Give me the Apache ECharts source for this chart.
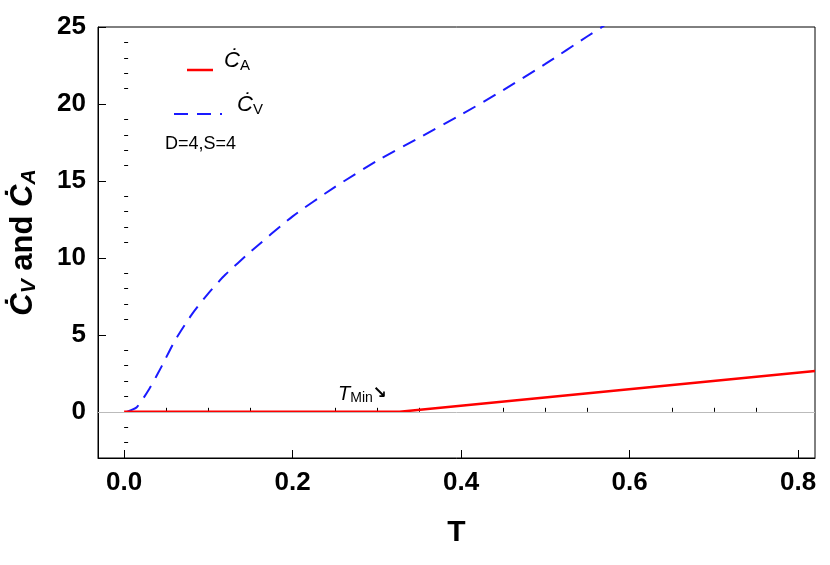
<!DOCTYPE html>
<html>
<head>
<meta charset="utf-8">
<script src="https://cdn.jsdelivr.net/npm/echarts@6/dist/echarts.min.js"></script>
<style>body{margin:0}#main{width:830px;height:565px}</style>
</head>
<body>
<div id="main"></div>
<script>
// data
var tCv = [0.003, 0.015, 0.03, 0.045, 0.06, 0.08, 0.1, 0.12, 0.15, 0.2, 0.25, 0.3, 0.35, 0.4, 0.45, 0.5, 0.55, 0.57];
var cv  = [0.0, 0.3, 1.5, 3.0, 4.6, 6.3, 7.7, 8.9, 10.4, 12.7, 14.6, 16.3, 17.8, 19.3, 20.9, 22.6, 24.4, 25.1];
var tCa = [0.0, 0.327, 0.82];
var ca  = [0.0, 0.0, 2.65];
var xTicks = [0, 0.2, 0.4, 0.6, 0.8];
var yTicks = [0, 5, 10, 15, 20, 25];
var xMinor = [0.05,0.1,0.15,0.25,0.3,0.35,0.45,0.5,0.55,0.65,0.7,0.75];
var yMinor = [-2,-1,1,2,3,4,6,7,8,9,11,12,13,14,16,17,18,19,21,22,23,24];

function zip(a, b) { return a.map(function (v, i) { return [v, b[i]]; }); }

var font = 'Liberation Sans, Arial, sans-serif';
var chart = echarts.init(document.getElementById('main'));
var ax = { color: '#000', width: 1 };
chart.setOption({
  animation: false,
  grid: { left: 97, right: 15, top: 27, bottom: 107, show: true, borderColor: '#000', borderWidth: 1, backgroundColor: 'transparent' },
  xAxis: [{
    type: 'value', min: -0.031, max: 0.82,
    splitLine: { show: false },
    axisLine: { onZero: false, lineStyle: ax },
    axisTick: { customValues: xTicks, length: 8, inside: true, lineStyle: ax },
    axisLabel: { customValues: xTicks, formatter: function (v) { return v.toFixed(1); }, color: '#000', fontSize: 26, fontWeight: 'bold', fontFamily: font, margin: 12 },
    name: 'T', nameLocation: 'middle', nameGap: 60,
    nameTextStyle: { color: '#000', fontSize: 30, fontWeight: 'bold', fontFamily: font }
  }, {
    type: 'value', min: -0.031, max: 0.82, position: 'bottom',
    splitLine: { show: false }, axisLine: { show: false }, axisLabel: { show: false },
    axisTick: { customValues: xMinor, length: 4, inside: true, lineStyle: ax }
  }],
  yAxis: [{
    type: 'value', min: -3, max: 25,
    splitLine: { show: false },
    axisLine: { onZero: false, lineStyle: ax },
    axisTick: { customValues: yTicks, length: 8, inside: true, lineStyle: ax },
    axisLabel: { customValues: yTicks, color: '#000', fontSize: 26, fontWeight: 'bold', fontFamily: font, margin: 12 },
    name: '{a|Ċ}{s|V}{t| and }{a|Ċ}{s|A}', nameLocation: 'middle', nameGap: 58, nameRotate: 90,
    nameTextStyle: {
      rich: {
        a: { fontSize: 31, fontWeight: 'bold', fontStyle: 'italic', fontFamily: font, color: '#000' },
        s: { fontSize: 21, fontWeight: 'bold', fontStyle: 'italic', fontFamily: font, color: '#000', padding: [12, 0, 0, 0] },
        t: { fontSize: 31, fontWeight: 'bold', fontFamily: font, color: '#000' }
      }
    }
  }, {
    type: 'value', min: -3, max: 25, position: 'left',
    splitLine: { show: false }, axisLine: { show: false }, axisLabel: { show: false },
    axisTick: { customValues: yMinor, length: 4, inside: true, lineStyle: ax }
  }],
  series: [{
    type: 'line', data: zip(tCa, ca), showSymbol: false, smooth: false,
    lineStyle: { color: '#ff0000', width: 2.5 },
    markLine: {
      silent: true, symbol: 'none', label: { show: false },
      lineStyle: { color: '#bbbbbb', width: 1, type: 'solid' },
      data: [{ yAxis: 0 }]
    },
    z: 3
  }, {
    type: 'line', data: zip(tCv, cv), showSymbol: false, smooth: 0.2,
    lineStyle: { color: '#1a1aff', width: 2, type: [14, 9] },
    z: 2
  }],
  graphic: [
    { type: 'line', shape: { x1: 187, y1: 70, x2: 213, y2: 70 }, style: { stroke: '#ff0000', lineWidth: 2.5 } },
    { type: 'text', left: 224, top: 50, style: { text: '{a|Ċ}{s|A}', rich: { a: { fontSize: 22, fontStyle: 'italic', fontFamily: font }, s: { fontSize: 15, fontFamily: font, padding: [10, 0, 0, 0] } } } },
    { type: 'line', shape: { x1: 174, y1: 114, x2: 222, y2: 114 }, style: { stroke: '#1a1aff', lineWidth: 2, lineDash: [14, 9] } },
    { type: 'text', left: 237, top: 94, style: { text: '{a|Ċ}{s|V}', rich: { a: { fontSize: 22, fontStyle: 'italic', fontFamily: font }, s: { fontSize: 15, fontFamily: font, padding: [10, 0, 0, 0] } } } },
    { type: 'text', left: 165, top: 135, style: { text: 'D=4,S=4', fontSize: 18, fontFamily: font, fill: '#000' } },
    { type: 'text', left: 338, top: 384, style: { text: '{a|T}{s|Min}{r|↘}', rich: { a: { fontSize: 20, fontStyle: 'italic', fontFamily: font }, s: { fontSize: 14, fontFamily: font, padding: [8, 0, 0, 0] }, r: { fontSize: 17, fontFamily: 'DejaVu Sans', fontWeight: 'bold' } } } }
  ]
});
</script>
</body>
</html>
